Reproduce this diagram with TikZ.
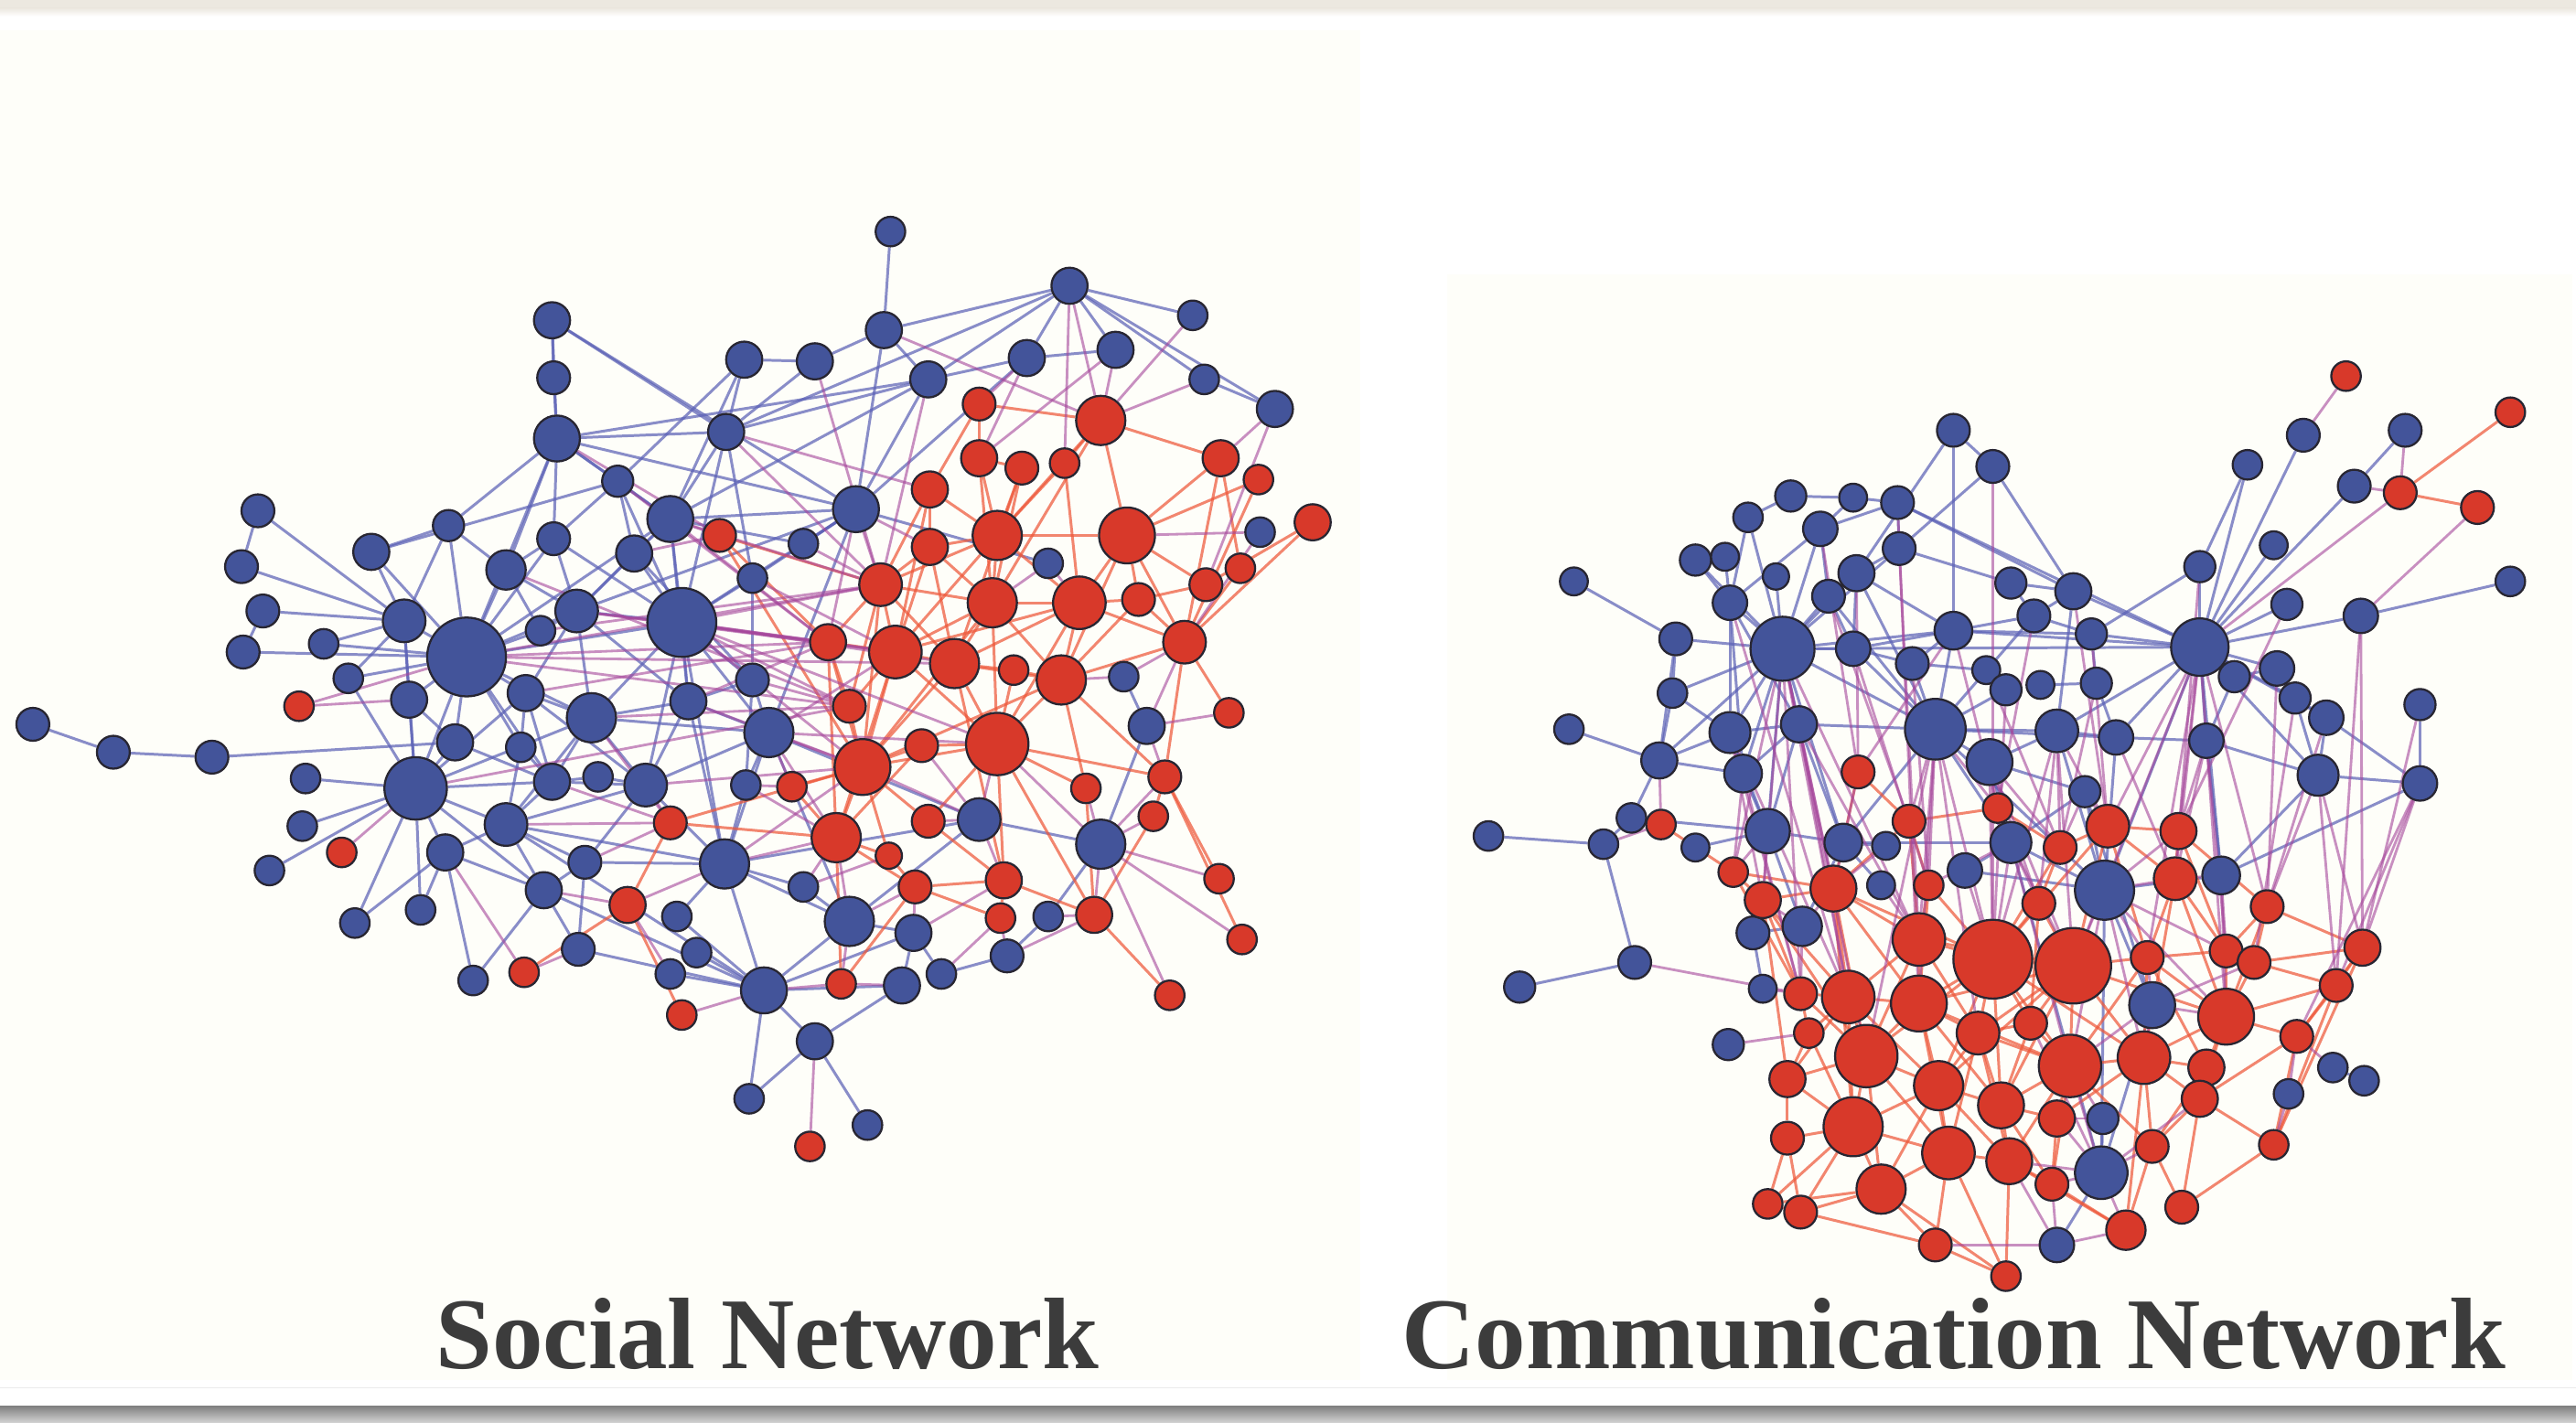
\documentclass[tikz,border=0pt]{standalone}
\usepackage{fontspec}
\setmainfont{Liberation Serif}
\pgfdeclarelayer{bgl}
\pgfdeclarelayer{edgel}
\pgfsetlayers{bgl,edgel,main}
\definecolor{nblue}{RGB}{67,84,154}
\definecolor{nred}{RGB}{216,57,42}
\definecolor{nline}{RGB}{40,38,50}
\definecolor{eblue}{RGB}{92,98,182}
\definecolor{ered}{RGB}{238,88,58}
\definecolor{emix}{RGB}{165,70,155}
\definecolor{ivory}{RGB}{254,254,249}
\definecolor{topgray}{RGB}{236,232,224}
\definecolor{capgray}{RGB}{60,60,60}
\tikzset{
 nodeB/.style={circle,fill=nblue,draw=nline,line width=0.65pt,inner sep=0pt,minimum size=#1*0.3592mm},
 nodeR/.style={circle,fill=nred,draw=nline,line width=0.65pt,inner sep=0pt,minimum size=#1*0.3592mm},
 eB/.style={draw=eblue,line width=0.85pt,opacity=0.72},
 eR/.style={draw=ered,line width=0.85pt,opacity=0.72},
 eM/.style={draw=emix,line width=0.8pt,opacity=0.6},
 netcap/.style={font=\bfseries\fontsize{31.6}{38}\selectfont,text=capgray,anchor=base west,inner sep=0pt}
}
\begin{document}
\begin{tikzpicture}[x=0.1796mm,y=-0.1796mm]
\useasboundingbox (0,0) rectangle (1568,866);
\begin{pgfonlayer}{bgl}
\fill[white] (0,0) rectangle (1568,866);
\fill[topgray] (0,0) rectangle (1568,5);
\shade[top color=topgray,bottom color=white] (0,5) rectangle (1568,10);
\fill[ivory] (0,18.5) rectangle (828,840);
\fill[ivory] (881,167) rectangle (1566,840);
\draw[black!8,line width=0.5pt] (0,845) -- (1568,845);
\shade[top color=black!50,bottom color=black!18] (0,856) rectangle (1568,866);
\end{pgfonlayer}

% ---------- Social network: blue nodes
\foreach \n/\x/\y/\r in {a1/542/141/9,a2/651/174/11,a3/336/195/11,a4/538/201/11,a5/726/192/9,a6/453/219/11,a7/496/220/11,a8/565/231/11,a9/625/218/11,a10/679/213/11,a11/337/230/10,a12/733/231/9,a13/776/249/11,a14/339/267/14,a15/442/263/11,a16/376/293/9.5,a17/157/311/10,a18/273/320/9.5,a19/226/336/11,a20/337/328/10,a21/408/316/14,a22/521/310/14,a23/489/331/9,a24/767/324/9,a25/147/345/10,a26/308/347/12,a27/386/337/11,a28/458/352/9,a29/160/372/10,a30/351/372/13,a31/415/379/21,a32/246/378/13,a33/284/400/24,a34/197/392/9,a35/148/397/10,a36/329/384/9,a37/212/413/9,a38/249/426/11,a39/320/422/11,a40/360/437/15,a41/419/427/11,a42/458/414/10,a43/468/446/15,a44/638/343/9,a45/684/412/9,a46/698/442/11,a47/20/441/10,a48/69/458/10,a49/129/461/10,a50/277/452/11,a51/317/455/9,a52/186/474/9,a53/253/480/19,a54/336/476/11,a55/364/473/9,a56/393/478/13,a57/454/478/9,a58/184/503/9,a59/308/502/13,a60/271/519/11,a61/356/525/10,a62/441/526/15,a63/164/530/9,a64/331/542/11,a65/256/554/9,a66/216/562/9,a67/412/558/9,a68/489/540/9,a69/517/561/15,a70/352/578/10,a71/288/597/9,a72/408/593/9,a73/424/580/9,a74/465/603/14,a75/556/568/11,a76/549/600/11,a77/573/593/9,a78/613/582/10,a79/638/558/9,a80/596/499/13,a81/670/514/15,a82/496/634/11,a83/456/669/9,a84/528/685/9}
  \node[nodeB=\r] (\n) at (\x,\y) {};
% ---------- Social network: red nodes
\foreach \n/\x/\y/\r in {b1/596/246/10,b2/670/256/15,b3/596/279/11,b4/622/285/10,b5/648/282/9,b6/743/279/11,b7/566/298/11,b8/766/292/9,b9/438/326/10,b10/607/326/15,b11/686/326/17,b12/799/318/11,b13/566/333/11,b14/755/346/9,b15/734/356/10,b16/536/356/13,b17/604/367/15,b18/657/367/16,b19/693/365/10,b20/504/391/11,b21/545/397/16,b22/581/404/15,b23/617/408/9,b24/646/414/15,b25/721/391/13,b26/182/430/9,b27/517/430/10,b28/607/453/19,b29/748/434/9,b30/525/467/17,b31/561/454/10,b32/482/479/9,b33/661/480/9,b34/709/473/10,b35/208/519/9,b36/408/501/10,b37/509/510/15,b38/565/500/10,b39/541/521/8,b40/702/497/9,b41/611/536/11,b42/557/540/10,b43/382/551/11,b44/666/557/11,b45/742/535/9,b46/609/559/9,b47/319/592/9,b48/512/599/9,b49/756/572/9,b50/712/606/9,b51/415/618/9,b52/493/698/9}
  \node[nodeR=\r] (\n) at (\x,\y) {};

% ---------- Communication network: blue nodes
\foreach \n/\x/\y/\r in {c1/1189/262/10,c2/1213/284/10,c3/1402/265/10,c4/1464/262/10,c5/1368/283/9,c6/1433/296/10,c7/1090/302/9.5,c8/1128/303/8.5,c9/1155/306/10,c10/1064/315/9,c11/1108/322/10.5,c12/1156/334/10,c13/1032/341/9.5,c14/1050/339/8.5,c15/1081/351/8,c16/1130/349/11,c17/1113/363/10,c18/958/354/8.5,c19/1053/367/10.5,c20/1339/345/9.5,c21/1384/332/8.5,c22/1224/355/9.5,c23/1262/360/11,c24/1528/354/9,c25/1238/375/10,c26/1392/368/9.5,c27/1437/375/10.5,c28/1020/389/10,c29/1085/395/19.5,c30/1128/395/10.5,c31/1189/384/11.5,c32/1273/386/9.5,c33/1339/394/17.5,c34/1164/404/10,c35/1018/422/9,c36/1209/408/8.5,c37/1221/420/9.5,c38/1242/417/8.5,c39/1276/416/9.5,c40/1360/412/9.5,c41/1386/407/10.5,c42/1397/425/9.5,c43/1416/437/10.5,c44/1473/429/9.5,c45/955/444/9,c46/1053/446/12.5,c47/1095/441/11,c48/1178/444/18.5,c49/1252/445/13,c50/1288/449/10.5,c51/1343/451/10.5,c52/1010/463/11,c53/1061/471/11.5,c54/1211/464/14,c55/1411/472/12.5,c56/1473/477/10.5,c57/1269/482/9.5,c58/906/509/9,c59/976/514/9,c60/993/498/9,c61/1076/506/13.5,c62/1122/513/11.5,c63/1148/515/8.5,c64/1224/513/12.5,c65/1032/516/8.5,c66/1196/530/10.5,c67/1145/539/8.5,c68/1281/542/18,c69/1352/533/11.5,c70/1097/564/12,c71/1067/568/10,c72/995/586/10,c73/925/601/9.5,c74/1073/602/8.5,c75/1052/636/9.5,c76/1310/612/14,c77/1420/650/9,c78/1439/658/9,c79/1393/666/9,c80/1280/681/9.5,c81/1279/714/16,c82/1252/758/10.5}
  \node[nodeB=\r] (\n) at (\x,\y) {};
% ---------- Communication network: red nodes
\foreach \n/\x/\y/\r in {d1/1428/229/9,d2/1528/251/9,d3/1461/300/10,d4/1508/309/10,d5/1131/470/10,d6/1011/502/9,d7/1216/492/9,d8/1162/500/10,d9/1055/531/9,d10/1254/516/10,d11/1283/503/13,d12/1326/506/11,d13/1324/535/13,d14/1116/541/14,d15/1073/548/11,d16/1174/539/9,d17/1241/550/10,d18/1380/552/10,d19/1168/572/16,d20/1213/584/24,d21/1262/588/23,d22/1307/583/10,d23/1355/579/10,d24/1372/586/10,d25/1438/577/11,d26/1422/600/10,d27/1096/605/10,d28/1125/607/16,d29/1168/611/17,d30/1236/623/10,d31/1204/629/13,d32/1355/619/17,d33/1101/629/9,d34/1136/643/19,d35/1260/649/19,d36/1305/644/16,d37/1398/631/10,d38/1343/650/11,d39/1088/657/11,d40/1180/661/15,d41/1218/673/14,d42/1252/681/11,d43/1339/669/11,d44/1128/686/18,d45/1088/693/10,d46/1186/702/16,d47/1223/707/14,d48/1310/698/10,d49/1384/697/9,d50/1145/724/15,d51/1249/721/10,d52/1076/733/9,d53/1096/738/10,d54/1294/749/12,d55/1328/735/10,d56/1178/758/10,d57/1221/777/9}
  \node[nodeR=\r] (\n) at (\x,\y) {};

\begin{pgfonlayer}{edgel}
% ---- social: blue-blue
\foreach \u/\v in {a1/a4,a4/a7,a7/a6,a4/a2,a4/a8,a4/a22,a2/a9,a2/a10,a2/a8,a2/a12,a9/a10,a8/a9,a8/a15,a8/a22,a8/a14,a6/a16,a6/a21,a7/a15,a3/a11,a11/a14,a3/a15,a14/a15,a14/a22,a14/a21,a14/a16,a14/a20,a14/a18,a14/a26,a15/a21,a15/a31,a15/a28,a16/a21,a16/a20,a16/a27,a16/a31,a17/a25,a17/a32,a18/a32,a18/a33,a18/a26,a19/a32,a19/a33,a19/a16,a20/a26,a20/a31,a20/a33,a21/a27,a21/a31,a21/a22,a21/a23,a21/a30,a21/a33,a22/a23,a22/a31,a22/a28,a22/a43,a22/a30,a25/a32,a26/a30,a26/a33,a26/a36,a27/a31,a27/a30,a28/a31,a28/a42,a29/a35,a29/a32,a30/a31,a30/a33,a30/a36,a30/a40,a30/a39,a31/a41,a31/a42,a31/a43,a31/a40,a31/a33,a31/a56,a31/a62,a32/a33,a32/a34,a32/a38,a32/a53,a33/a34,a33/a35,a33/a36,a33/a37,a33/a38,a33/a39,a33/a53,a33/a40,a33/a50,a33/a51,a33/a54,a37/a53,a38/a53,a38/a50,a39/a40,a39/a53,a39/a51,a39/a54,a40/a41,a40/a43,a40/a53,a40/a54,a40/a56,a40/a59,a41/a42,a41/a43,a41/a56,a41/a62,a42/a43,a42/a57,a43/a56,a43/a57,a43/a62,a43/a69,a45/a46,a46/a81,a47/a48,a48/a49,a49/a50,a50/a53,a50/a54,a51/a54,a51/a59,a52/a53,a58/a53,a63/a53,a60/a53,a65/a60,a66/a60,a53/a54,a53/a59,a53/a64,a54/a55,a54/a59,a55/a56,a56/a59,a56/a62,a56/a61,a57/a62,a59/a60,a59/a61,a59/a64,a59/a62,a59/a74,a60/a64,a61/a62,a61/a64,a61/a70,a62/a67,a62/a69,a62/a74,a62/a68,a64/a70,a64/a74,a64/a71,a67/a74,a68/a69,a69/a74,a69/a75,a69/a80,a70/a74,a72/a74,a73/a74,a74/a82,a74/a76,a74/a75,a75/a76,a75/a77,a76/a82,a77/a78,a78/a79,a79/a81,a80/a81,a80/a62,a80/a43,a82/a83,a82/a84,a83/a74,a44/a22,a13/a2,a5/a2,a12/a13,a60/a71,a53/a65,a53/a66,a3/a14,a14/a33,a32/a37,a19/a18,a3/a22,a6/a15,a9/a22,a8/a21,a2/a15,a21/a41,a30/a41,a27/a42,a20/a30,a54/a56,a39/a56}
  \draw[eB] (\u) -- (\v);
% ---- social: red-red
\foreach \u/\v in {b1/b2,b1/b3,b1/b7,b2/b11,b2/b6,b2/b10,b2/b17,b2/b5,b3/b10,b3/b4,b4/b10,b4/b17,b5/b10,b5/b18,b6/b11,b6/b25,b6/b14,b7/b13,b7/b16,b7/b10,b7/b21,b10/b13,b10/b16,b10/b17,b10/b18,b10/b11,b11/b18,b11/b19,b11/b25,b11/b15,b12/b25,b12/b15,b13/b16,b13/b17,b16/b17,b16/b20,b16/b21,b16/b22,b16/b27,b17/b18,b17/b22,b17/b21,b17/b24,b17/b28,b18/b24,b18/b19,b18/b22,b18/b25,b18/b28,b19/b24,b20/b21,b20/b30,b20/b27,b21/b22,b21/b27,b21/b30,b21/b28,b22/b23,b22/b24,b22/b28,b22/b30,b23/b24,b23/b28,b24/b28,b24/b25,b24/b33,b25/b29,b25/b34,b27/b30,b28/b30,b28/b31,b28/b33,b28/b38,b28/b41,b28/b34,b30/b31,b30/b32,b30/b37,b30/b38,b30/b39,b31/b37,b32/b37,b36/b37,b36/b43,b37/b39,b37/b42,b38/b41,b39/b42,b41/b46,b41/b44,b42/b46,b43/b47,b43/b51,b44/b50,b44/b40,b34/b40,b33/b44,b45/b34,b49/b34,b41/b42,b36/b30,b9/b16,b9/b20,b9/b30,b48/b42,b37/b48,b28/b44,b13/b21,b8/b25,b14/b25,b15/b19,b11/b24,b8/b11,b22/b41,b21/b37,b24/b34,b25/b19,b3/b17,b4/b22,b20/b37,b16/b30,b13/b22,b10/b21,b17/b30,b24/b30,b18/b21}
  \draw[eR] (\u) -- (\v);
% ---- social: mixed
\foreach \u/\v in {a4/b2,a2/b2,a9/b1,a10/b2,a12/b2,a10/b3,a8/b16,a13/b6,a13/b15,a5/b2,a24/b11,a24/b25,a22/b16,a22/b20,a22/b13,a21/b9,a21/b20,a31/b20,a31/b16,a31/b22,a31/b27,a31/b30,a31/b28,a33/b26,a33/b20,a33/b27,a30/b20,a36/b16,a27/b9,a23/b16,a28/b21,a41/b30,a42/b27,a43/b30,a43/b32,a43/b37,a43/b21,a56/b36,a59/b36,a62/b37,a62/b43,a53/b35,a38/b26,a60/b47,a64/b43,a70/b47,a74/b51,a82/b52,a69/b48,a69/b42,a69/b37,a75/b42,a75/b41,a76/b48,a77/b46,a78/b46,a78/b44,a79/b44,a80/b38,a80/b41,a80/b28,a81/b44,a81/b33,a81/b34,a81/b40,a81/b45,a81/b49,a81/b50,a81/b28,a46/b34,a46/b29,a46/b25,a45/b24,a45/b25,a44/b17,a44/b18,a57/b32,a57/b37,a68/b39,a68/b37,a61/b36,a72/b43,a54/b36,a40/b36,a14/b9,a15/b7,a7/b16,a2/b5,a9/b3,a15/b16,a16/b20,a26/b27,a39/b20,a33/b16,a80/b31,a80/b30,a43/b28,a62/b30,a74/b48,a33/b22,a53/b27,a30/b21,a31/b21,a40/b27,a56/b30,a21/b16,a41/b20}
  \draw[eM] (\u) -- (\v);
% ---- communication: blue-blue
\foreach \u/\v in {c1/c2,c1/c16,c1/c31,c2/c12,c2/c23,c7/c10,c7/c8,c8/c9,c8/c11,c9/c11,c9/c12,c9/c23,c9/c33,c10/c19,c10/c29,c11/c19,c11/c17,c11/c29,c12/c16,c12/c22,c12/c29,c13/c14,c13/c19,c13/c29,c14/c19,c15/c29,c16/c29,c16/c31,c16/c48,c16/c30,c17/c29,c17/c30,c17/c48,c18/c28,c19/c29,c19/c46,c19/c47,c3/c33,c5/c20,c5/c33,c20/c33,c21/c33,c4/c6,c6/c33,c24/c27,c26/c33,c27/c33,c22/c23,c22/c25,c23/c25,c23/c33,c23/c49,c25/c31,c25/c32,c25/c48,c28/c29,c28/c35,c28/c52,c29/c30,c29/c31,c29/c46,c29/c47,c29/c48,c29/c35,c29/c52,c29/c53,c29/c33,c30/c31,c30/c34,c31/c33,c31/c48,c31/c34,c31/c32,c32/c33,c32/c39,c33/c40,c33/c41,c33/c42,c33/c51,c33/c55,c33/c43,c33/c50,c33/c49,c34/c48,c34/c36,c35/c52,c36/c37,c37/c48,c38/c39,c39/c50,c40/c41,c41/c42,c42/c43,c42/c55,c43/c55,c44/c56,c55/c56,c56/c69,c45/c52,c46/c47,c46/c52,c46/c53,c46/c61,c47/c48,c47/c61,c47/c53,c48/c49,c48/c54,c48/c50,c49/c50,c49/c54,c50/c51,c51/c55,c52/c53,c52/c60,c53/c61,c54/c57,c54/c64,c57/c68,c58/c59,c59/c60,c59/c72,c60/c61,c72/c73,c61/c62,c61/c65,c61/c70,c62/c63,c62/c64,c64/c68,c64/c57,c66/c64,c66/c68,c67/c62,c69/c68,c69/c51,c70/c71,c71/c74,c76/c68,c77/c78,c80/c81,c81/c82,c81/c68,c29/c61,c48/c64,c48/c62,c33/c68,c33/c69,c20/c32,c46/c35,c30/c48,c29/c62,c19/c53,c47/c62,c55/c69,c43/c56,c40/c51,c64/c81,c76/c81,c62/c70,c48/c68,c49/c68,c50/c68,c57/c76}
  \draw[eB] (\u) -- (\v);
% ---- communication: red-red
\foreach \u/\v in {d2/d3,d3/d4,d5/d8,d5/d14,d7/d8,d7/d10,d8/d14,d8/d16,d8/d19,d9/d15,d9/d14,d10/d11,d10/d17,d11/d12,d11/d13,d11/d21,d12/d13,d13/d22,d13/d23,d14/d15,d14/d19,d14/d20,d14/d28,d15/d27,d15/d28,d16/d19,d16/d20,d17/d20,d17/d21,d18/d23,d18/d24,d19/d20,d19/d28,d19/d29,d20/d21,d20/d29,d20/d31,d21/d22,d21/d35,d21/d30,d21/d36,d22/d23,d22/d32,d23/d24,d24/d25,d24/d32,d25/d26,d26/d32,d26/d37,d27/d28,d27/d33,d28/d29,d28/d34,d28/d33,d29/d31,d29/d34,d29/d40,d30/d35,d30/d31,d31/d35,d31/d40,d31/d41,d32/d36,d32/d37,d32/d38,d33/d39,d34/d39,d34/d40,d34/d44,d35/d36,d35/d42,d35/d41,d36/d38,d36/d43,d37/d49,d38/d43,d39/d44,d39/d45,d40/d41,d40/d44,d40/d46,d41/d42,d41/d47,d42/d51,d43/d48,d43/d55,d44/d45,d44/d50,d44/d46,d45/d52,d45/d53,d46/d47,d46/d50,d46/d56,d47/d51,d47/d57,d48/d54,d48/d55,d49/d55,d50/d53,d50/d56,d51/d54,d52/d53,d21/d40,d20/d34,d19/d34,d14/d34,d29/d46,d35/d47,d36/d48,d22/d35,d13/d32,d12/d23,d23/d32,d11/d20,d10/d20,d28/d44,d31/d46,d25/d37,d18/d32,d37/d43,d20/d35,d21/d29,d19/d31,d15/d39,d27/d34,d33/d44,d40/d47,d34/d50,d29/d41,d25/d49,d26/d49,d18/d25,d12/d18,d30/d41,d20/d40,d21/d31,d56/d57,d50/d52,d53/d56,d44/d53,d36/d54,d38/d48,d43/d49,d9/d27,d6/d9,d14/d29,d16/d29,d17/d30,d22/d36,d24/d26,d28/d39,d32/d43,d35/d51,d47/d54,d20/d36,d19/d21,d28/d40,d34/d46,d21/d32,d29/d35,d14/d44,d20/d41,d35/d48,d31/d47,d44/d52,d40/d50,d21/d41,d20/d30,d13/d36,d11/d22,d22/d38,d36/d42,d15/d34,d41/d51,d46/d57,d50/d57}
  \draw[eR] (\u) -- (\v);
% ---- communication: mixed
\foreach \u/\v in {c3/d1,c4/d3,c33/d3,c27/d4,c6/d3,c29/d14,c29/d15,c29/d19,c29/d27,c29/d28,c29/d9,c47/d14,c47/d19,c47/d28,c46/d15,c46/d27,c53/d9,c53/d27,c48/d8,c48/d16,c48/d19,c48/d20,c48/d29,c48/d31,c48/d7,c49/d10,c49/d11,c49/d17,c49/d21,c54/d7,c54/d10,c54/d20,c54/d17,c33/d12,c33/d11,c33/d13,c33/d18,c33/d21,c33/d22,c51/d12,c51/d13,c51/d23,c55/d18,c55/d25,c55/d26,c56/d25,c56/d26,c56/d37,c43/d18,c57/d11,c57/d10,c64/d17,c64/d21,c64/d20,c64/d16,c62/d14,c62/d5,c63/d14,c67/d19,c66/d20,c68/d21,c68/d22,c68/d13,c68/d35,c68/d36,c68/d23,c68/d12,c69/d13,c69/d23,c69/d32,c61/d9,c61/d15,c52/d6,c60/d6,c72/d27,c74/d27,c75/d33,c70/d15,c70/d14,c70/d27,c76/d22,c76/d32,c76/d36,c76/d35,c76/d24,c77/d37,c79/d49,c79/d37,c80/d35,c80/d42,c81/d42,c81/d51,c81/d47,c81/d35,c81/d43,c81/d48,c81/d54,c81/d30,c82/d54,c82/d56,c82/d51,c82/d47,c44/d25,c27/d25,c42/d24,c41/d18,c31/d7,c31/d5,c11/d5,c16/d5,c17/d8,c23/d11,c32/d11,c39/d10,c25/d7,c34/d16,c30/d16,c36/d10,c37/d20,c50/d13,c59/d6,c27/d26,c26/d12,c20/d13,c9/d29,c12/d19,c2/d20,c19/d28,c29/d34,c48/d34,c46/d28,c54/d21,c49/d20,c64/d35,c68/d32,c33/d32}
  \draw[eM] (\u) -- (\v);
\end{pgfonlayer}

\node[netcap] (t1) at (265,833) {Social Network};
\node[netcap] (t2) at (853,833) {Communication Network};
\end{tikzpicture}
\end{document}
